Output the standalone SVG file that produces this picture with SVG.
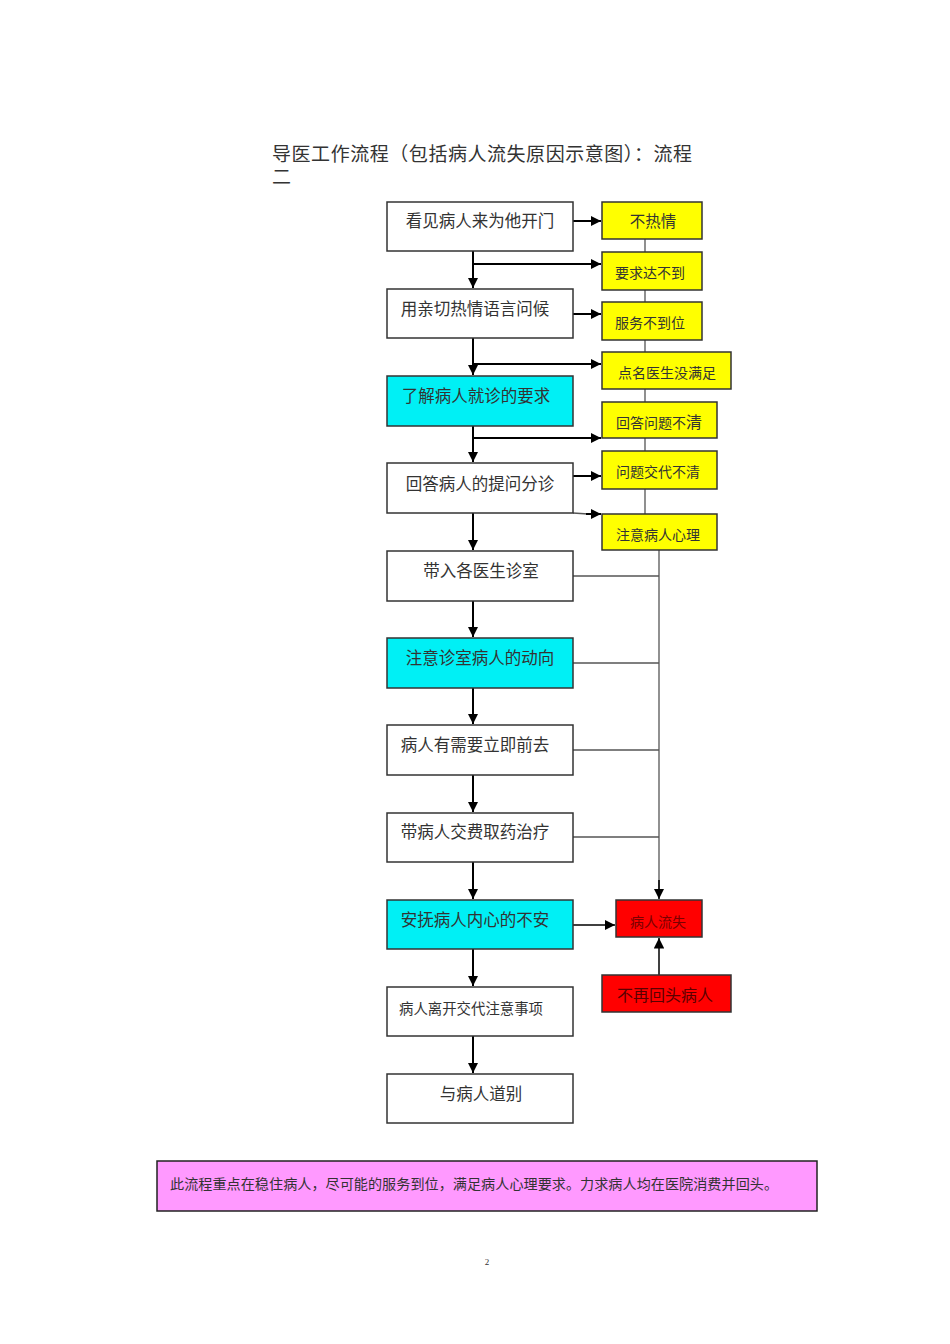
<svg xmlns="http://www.w3.org/2000/svg" width="950" height="1344" viewBox="0 0 950 1344">
<style>
text{font-family:"Liberation Serif","Noto Sans CJK SC",serif;fill:#333}
.n{fill:#fff;stroke:#333;stroke-width:1.5}
.c{fill:#00F0F5;stroke:#333;stroke-width:1.5}
.y{fill:#FFFF00;stroke:#333;stroke-width:1.5}
.r{fill:#FF0000;stroke:#333;stroke-width:1.5}
.t{font-size:16.5px;text-anchor:middle}
.ys{font-size:14px;text-anchor:middle}
.a{stroke:#000;stroke-width:2;fill:none}
.g{stroke:#555;stroke-width:1.3;fill:none}
</style>
<defs>
<marker id="ah" viewBox="0 0 10 10" refX="10" refY="5" markerWidth="5" markerHeight="5" orient="auto" markerUnits="strokeWidth"><path d="M0,0L10,5L0,10z" fill="#000"/></marker>
<marker id="ah2" viewBox="0 0 10 10" refX="10" refY="5" markerWidth="7" markerHeight="7" orient="auto" markerUnits="strokeWidth"><path d="M0,0L10,5L0,10z" fill="#000"/></marker>
</defs>
<g id="title">
<text x="272" y="161" style="font-size:19px" textLength="420" lengthAdjust="spacing">导医工作流程（包括病人流失原因示意图）：流程</text>
<text x="272" y="184" style="font-size:19px">二</text>
</g>
<g id="connectors">
<path class="a" d="M473,251V288" marker-end="url(#ah)"/>
<path class="a" d="M473,338V375" marker-end="url(#ah)"/>
<path class="a" d="M473,426V462" marker-end="url(#ah)"/>
<path class="a" d="M473,513V550" marker-end="url(#ah)"/>
<path class="a" d="M473,601V637" marker-end="url(#ah)"/>
<path class="a" d="M473,688V724" marker-end="url(#ah)"/>
<path class="a" d="M473,775V812" marker-end="url(#ah)"/>
<path class="a" d="M473,862V899" marker-end="url(#ah)"/>
<path class="a" d="M473,949V986" marker-end="url(#ah)"/>
<path class="a" d="M473,1036V1073" marker-end="url(#ah)"/>
<path class="a" d="M573,221H601" marker-end="url(#ah)"/>
<path class="a" d="M473,264H601" marker-end="url(#ah)"/>
<path class="a" d="M573,314H601" marker-end="url(#ah)"/>
<path class="a" d="M473,364H601" marker-end="url(#ah)"/>
<path class="a" d="M473,438H601" marker-end="url(#ah)"/>
<path class="a" d="M573,476H601" marker-end="url(#ah)"/>
<path class="g" d="M573,513L588,514" /><path class="a" d="M586,514H601" marker-end="url(#ah)"/>
<path class="g" d="M645,239V252M645,290V302M645,340V352M645,389V402M645,438V451M645,489V514"/>
<path class="g" d="M573,576H659M573,663H659M573,750H659M573,837H659"/>
<path class="g" d="M659,550V890"/>
<path class="a" style="stroke-width:1.5" d="M659,880V899" marker-end="url(#ah2)"/>
<path class="a" style="stroke-width:1.5" d="M573,925H615" marker-end="url(#ah2)"/>
<path class="a" style="stroke-width:1.5" d="M659,975V938" marker-end="url(#ah2)"/>
</g>
<g id="n1"><rect class="n" x="387" y="202" width="186" height="49"/><text class="t" x="480" y="227">看见病人来为他开门</text></g>
<g id="n2"><rect class="n" x="387" y="289" width="186" height="49"/><text class="t" x="475" y="315">用亲切热情语言问候</text></g>
<g id="n3"><rect class="c" x="387" y="376" width="186" height="50"/><text class="t" x="476" y="402">了解病人就诊的要求</text></g>
<g id="n4"><rect class="n" x="387" y="463" width="186" height="50"/><text class="t" x="480" y="490">回答病人的提问分诊</text></g>
<g id="n5"><rect class="n" x="387" y="551" width="186" height="50"/><text class="t" x="481" y="577">带入各医生诊室</text></g>
<g id="n6"><rect class="c" x="387" y="638" width="186" height="50"/><text class="t" x="480" y="664">注意诊室病人的动向</text></g>
<g id="n7"><rect class="n" x="387" y="725" width="186" height="50"/><text class="t" x="475" y="751">病人有需要立即前去</text></g>
<g id="n8"><rect class="n" x="387" y="813" width="186" height="49"/><text class="t" x="475" y="838">带病人交费取药治疗</text></g>
<g id="n9"><rect class="c" x="387" y="900" width="186" height="49"/><text class="t" x="475" y="926">安抚病人内心的不安</text></g>
<g id="n10"><rect class="n" x="387" y="987" width="186" height="49"/><text class="t" x="471" y="1014" style="font-size:14.4px">病人离开交代注意事项</text></g>
<g id="n11"><rect class="n" x="387" y="1074" width="186" height="49"/><text class="t" x="481" y="1100">与病人道别</text></g>
<g id="y1"><rect class="y" x="602" y="202" width="100" height="37"/><text class="ys" x="653" y="227" style="font-size:15.5px">不热情</text></g>
<g id="y2"><rect class="y" x="602" y="252" width="100" height="38"/><text class="ys" x="650" y="278">要求达不到</text></g>
<g id="y3"><rect class="y" x="602" y="302" width="100" height="38"/><text class="ys" x="650" y="328">服务不到位</text></g>
<g id="y4"><rect class="y" x="602" y="352" width="129" height="37"/><text class="ys" x="667" y="378">点名医生没满足</text></g>
<g id="y5"><rect class="y" x="602" y="402" width="115" height="36"/><text class="ys" x="659" y="428">回答问题不<tspan style="font-size:16px">清</tspan></text></g>
<g id="y6"><rect class="y" x="602" y="451" width="115" height="38"/><text class="ys" x="658" y="477">问题交代不清</text></g>
<g id="y7"><rect class="y" x="602" y="514" width="115" height="36"/><text class="ys" x="658" y="540">注意病人心理</text></g>
<g id="r1"><rect class="r" x="616" y="900" width="86" height="37"/><text class="ys" x="658" y="927" style="fill:#7a0000">病人流失</text></g>
<g id="r2"><rect class="r" x="602" y="975" width="129" height="37"/><text class="ys" x="665" y="1001" style="font-size:16px;fill:#5a0000">不再回头病人</text></g>
<g id="note"><rect x="157" y="1161" width="660" height="50" fill="#FF99FF" stroke="#222" stroke-width="1.5"/><text x="170" y="1189" style="font-size:14.1px" textLength="608" lengthAdjust="spacing">此流程重点在稳住病人，尽可能的服务到位，满足病人心理要求。力求病人均在医院消费并回头。</text></g>
<text x="487" y="1265" style="font-size:9px;text-anchor:middle">2</text>
</svg>
